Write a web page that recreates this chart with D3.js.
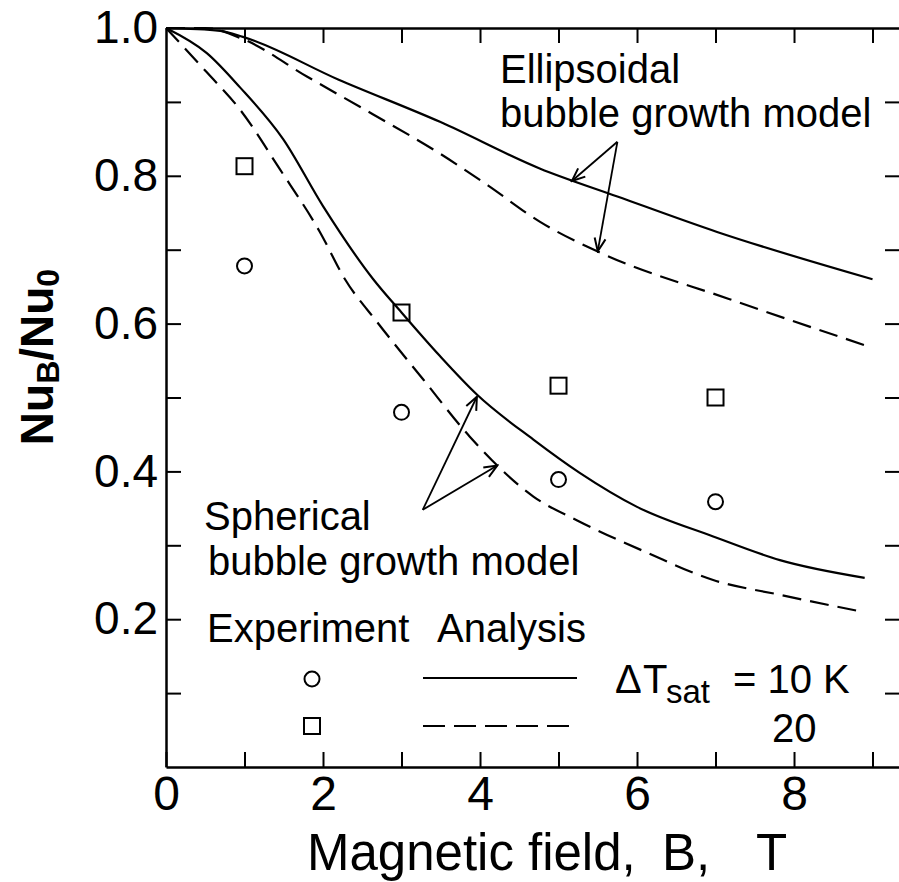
<!DOCTYPE html>
<html>
<head>
<meta charset="utf-8">
<script src="https://cdn.jsdelivr.net/npm/d3@7"></script>
<style>
  html, body { margin: 0; padding: 0; background: #fff; }
  svg { display: block; font-family: "Liberation Sans", Arial, Helvetica, sans-serif; }
</style>
</head>
<body>
<div id="chart"></div>
<script>
// Analysis curves, spherical bubble growth model
const sphB10  = [0, 0.52, 0.94, 1.49, 2.0, 2.64, 3.0, 3.49, 3.96, 4.68, 5.27, 6.0, 6.97, 7.82, 8.9];
const sphNu10 = [1.0, 0.966, 0.92, 0.85, 0.759, 0.66, 0.615, 0.556, 0.504, 0.443, 0.398, 0.352, 0.312, 0.28, 0.256];
const sphB20  = [0, 0.52, 0.94, 1.45, 1.96, 2.28, 2.69, 3.28, 3.87, 4.68, 5.27, 6.13, 6.97, 7.82, 8.87];
const sphNu20 = [1.0, 0.94, 0.89, 0.809, 0.724, 0.66, 0.602, 0.524, 0.447, 0.366, 0.332, 0.29, 0.253, 0.233, 0.21];

// Analysis curves, ellipsoidal bubble growth model
const ellB10  = [0, 0.69, 0.98, 2.2, 3.49, 4.76, 5.75, 7.02, 9.0];
const ellNu10 = [1.0, 0.996, 0.988, 0.93, 0.873, 0.81, 0.772, 0.724, 0.66];
const ellB20  = [0, 0.5, 0.98, 1.8, 2.64, 3.49, 4.1, 4.76, 5.53, 7.18, 8.95];
const ellNu20 = [1.0, 1.0, 0.985, 0.934, 0.883, 0.83, 0.787, 0.738, 0.696, 0.633, 0.569];

// Experiment
const expB    = [1, 3, 5, 7];
const expNu10 = [0.678, 0.48, 0.389, 0.359];
const expNu20 = [0.813, 0.615, 0.516, 0.50];

const xTicks = [0, 1, 2, 3, 4, 5, 6, 7, 8, 9];
const yTicks = [0.1, 0.2, 0.3, 0.4, 0.5, 0.6, 0.7, 0.8, 0.9, 1.0];

const width = 899, height = 882;
const FONT = '"Liberation Sans", Arial, Helvetica, sans-serif';

const svg = d3.select("#chart").append("svg")
  .attr("width", width)
  .attr("height", height);

const x = d3.scaleLinear().domain([0, 9.35]).range([166, 900]);
const y = d3.scaleLinear().domain([0, 1]).range([767, 28]);

// arrow head
svg.append("defs").append("marker")
  .attr("id", "arr")
  .attr("markerUnits", "userSpaceOnUse")
  .attr("viewBox", "-14 -8 16 16")
  .attr("refX", 0).attr("refY", 0)
  .attr("markerWidth", 16).attr("markerHeight", 16)
  .attr("orient", "auto")
  .append("path")
  .attr("d", "M-13,-5.5L0,0L-13,5.5")
  .attr("fill", "none")
  .attr("stroke", "#000")
  .attr("stroke-width", 2);

// axes, ticks pointing inward
const axBottom = svg.append("g")
  .attr("transform", `translate(0,${y(0)})`)
  .call(d3.axisBottom(x).tickValues(xTicks).tickSizeInner(-15).tickSizeOuter(0).tickPadding(9)
    .tickFormat(d => d % 2 === 0 ? d : ""));
const axTop = svg.append("g")
  .attr("transform", `translate(0,${y(1)})`)
  .call(d3.axisTop(x).tickValues(xTicks.slice(1)).tickSizeInner(-15).tickSizeOuter(0).tickFormat(""));
const axLeft = svg.append("g")
  .attr("transform", `translate(${x(0)},0)`)
  .call(d3.axisLeft(y).tickValues(yTicks).tickSizeInner(-15).tickSizeOuter(0).tickPadding(8)
    .tickFormat(d => Math.round(d * 10) % 2 === 0 ? d3.format(".1f")(d) : ""));
const axRight = svg.append("g")
  .attr("transform", `translate(${x(9.35)},0)`)
  .call(d3.axisRight(y).tickValues(yTicks.slice(0, 9)).tickSizeInner(-15).tickSizeOuter(0).tickFormat(""));

[axBottom, axTop, axLeft, axRight].forEach(g => {
  g.selectAll("path.domain").attr("stroke", "#000").attr("stroke-width", 2.5);
  g.selectAll(".tick line").attr("stroke", "#000").attr("stroke-width", 2);
});
axBottom.selectAll(".tick text")
  .attr("font-family", FONT).attr("font-size", 48).attr("fill", "#000");
axLeft.selectAll(".tick text")
  .attr("font-family", FONT).attr("font-size", 46).attr("fill", "#000");
axLeft.select(".tick:last-of-type line").remove();

// curves
const line = d3.line().x(d => x(d[0])).y(d => y(d[1])).curve(d3.curveMonotoneX);
const curves = [
  [sphB10, sphNu10, null],
  [sphB20, sphNu20, "19,9"],
  [ellB10, ellNu10, null],
  [ellB20, ellNu20, "19,9"]
];
curves.forEach(([bs, vs, dash]) => {
  svg.append("path")
    .datum(d3.zip(bs, vs))
    .attr("d", line)
    .attr("fill", "none")
    .attr("stroke", "#000")
    .attr("stroke-width", 2.2)
    .attr("stroke-dasharray", dash);
});

// experimental points
svg.append("g").selectAll("circle")
  .data(d3.zip(expB, expNu10))
  .join("circle")
  .attr("cx", d => x(d[0]))
  .attr("cy", d => y(d[1]))
  .attr("r", 7.5)
  .attr("fill", "none").attr("stroke", "#000").attr("stroke-width", 2);
svg.append("g").selectAll("rect")
  .data(d3.zip(expB, expNu20))
  .join("rect")
  .attr("x", d => x(d[0]) - 8)
  .attr("y", d => y(d[1]) - 8)
  .attr("width", 16).attr("height", 16)
  .attr("fill", "none").attr("stroke", "#000").attr("stroke-width", 2);

// annotation arrows
const arrows = [
  [[5.75, 0.846], [5.17, 0.793]],
  [[5.75, 0.846], [5.5, 0.698]],
  [[3.27, 0.348], [3.96, 0.501]],
  [[3.27, 0.348], [4.22, 0.408]]
];
arrows.forEach(([a, b]) => {
  svg.append("line")
    .attr("x1", x(a[0])).attr("y1", y(a[1]))
    .attr("x2", x(b[0])).attr("y2", y(b[1]))
    .attr("stroke", "#000").attr("stroke-width", 1.8)
    .attr("marker-end", "url(#arr)");
});

// annotation text
const note = (tx, ty, str, size) => svg.append("text")
  .attr("x", tx).attr("y", ty)
  .attr("font-family", FONT).attr("font-size", size || 40)
  .attr("fill", "#000")
  .text(str);

note(500, 83, "Ellipsoidal");
note(500, 127, "bubble growth model");
note(204, 530, "Spherical");
note(208, 575, "bubble growth model");

// legend
note(207, 642, "Experiment");
note(437, 642, "Analysis");
svg.append("circle")
  .attr("cx", 312).attr("cy", 679).attr("r", 7.5)
  .attr("fill", "none").attr("stroke", "#000").attr("stroke-width", 2);
svg.append("rect")
  .attr("x", 304).attr("y", 718).attr("width", 16).attr("height", 16)
  .attr("fill", "none").attr("stroke", "#000").attr("stroke-width", 2);
svg.append("line")
  .attr("x1", 423).attr("x2", 577).attr("y1", 678).attr("y2", 678)
  .attr("stroke", "#000").attr("stroke-width", 2.2);
svg.append("line")
  .attr("x1", 423).attr("x2", 573).attr("y1", 726).attr("y2", 726)
  .attr("stroke", "#000").attr("stroke-width", 2.2)
  .attr("stroke-dasharray", "22,9");

const dT = svg.append("text")
  .attr("font-family", FONT).attr("font-size", 40).attr("fill", "#000");
dT.append("tspan").attr("x", 615).attr("y", 693).text("Δ");
dT.append("tspan").attr("x", 643).attr("y", 693).text("T");
dT.append("tspan").attr("x", 666).attr("y", 703).attr("font-size", 33).text("sat");
dT.append("tspan").attr("x", 733).attr("y", 693).text("= 10 K");
note(772, 742, "20");

// axis titles
const xt = svg.append("text")
  .attr("font-family", FONT).attr("font-size", 51).attr("fill", "#000");
xt.append("tspan").attr("x", 307).attr("y", 870).text("Magnetic");
xt.append("tspan").attr("x", 528).attr("y", 870).text("field,");
xt.append("tspan").attr("x", 662).attr("y", 870).text("B,");
xt.append("tspan").attr("x", 756).attr("y", 870).text("T");

const yt = svg.append("text")
  .attr("transform", "translate(53,357) rotate(-90)")
  .attr("text-anchor", "middle")
  .attr("font-family", FONT).attr("font-size", 46).attr("font-weight", "bold")
  .attr("fill", "#000");
yt.append("tspan").text("Nu");
yt.append("tspan").attr("font-size", 32).attr("dy", 6).text("B");
yt.append("tspan").attr("dy", -6).text("/Nu");
yt.append("tspan").attr("font-size", 32).attr("dy", 6).text("0");
</script>
</body>
</html>
